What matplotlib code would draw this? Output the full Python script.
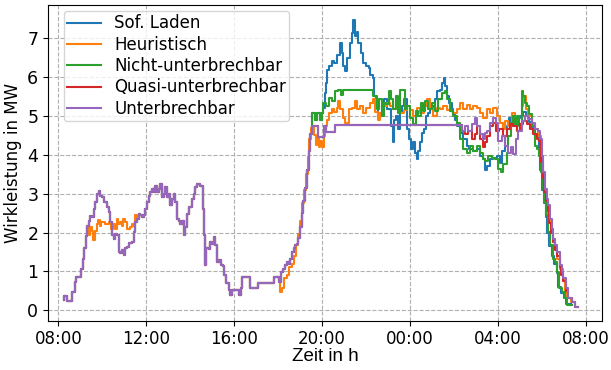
import numpy as np
import matplotlib
matplotlib.use("Agg")
import matplotlib.pyplot as plt
from matplotlib.ticker import FuncFormatter

# Gemeinsamer Verlauf (alle Strategien gleich) bis ca. 19:30, Zeit in h ab 0:00 des ersten Tages
basis_t = [8.24, 8.27, 8.40, 8.64, 8.74, 8.80, 9.03, 9.10, 9.17, 9.24,
           9.30, 9.38, 9.45, 9.55, 9.61, 9.68, 9.76, 9.83, 9.91, 9.98,
           10.06, 10.21, 10.29, 10.36, 10.44, 10.52, 10.59, 10.67, 10.74, 10.82,
           10.89, 10.97, 11.05, 11.12, 11.23, 11.35, 11.42, 11.50, 11.58, 11.65,
           11.73, 11.80, 11.88, 11.95, 12.03, 12.11, 12.18, 12.26, 12.33, 12.41,
           12.48, 12.56, 12.64, 12.71, 12.79, 12.86, 12.94, 13.02, 13.09, 13.17,
           13.24, 13.32, 13.39, 13.47, 13.55, 13.62, 13.70, 13.77, 13.85, 13.92,
           14.08, 14.15, 14.23, 14.30, 14.45, 14.56, 14.61, 14.65, 14.70, 14.83,
           14.91, 14.98, 15.06, 15.14, 15.21, 15.29, 15.39, 15.48, 15.55, 15.64,
           15.74, 15.82, 15.89, 16.20, 16.30, 16.35, 16.72, 17.08, 17.83, 18.02,
           18.12, 18.24, 18.32, 18.39, 18.47, 18.55, 18.62, 18.70, 18.77, 18.85,
           18.92, 19.00, 19.08, 19.15, 19.23, 19.30, 19.38, 19.45]
basis_p = [0.26, 0.37, 0.24, 0.48, 0.73, 0.85, 1.07, 1.33, 1.59, 1.90,
           2.18, 2.30, 2.42, 2.40, 2.61, 2.78, 2.99, 3.08, 2.95, 2.91,
           2.78, 2.65, 2.53, 2.27, 1.93, 1.84, 1.97, 1.93, 1.50, 1.46,
           1.54, 1.42, 1.59, 1.63, 1.72, 1.76, 2.01, 2.27, 2.35, 2.48,
           2.44, 2.40, 2.44, 2.61, 2.78, 2.95, 3.04, 3.12, 3.04, 3.21,
           3.04, 3.12, 3.25, 2.91, 2.99, 3.16, 2.91, 2.99, 2.70, 2.87,
           2.99, 2.78, 2.35, 2.30, 2.23, 2.30, 1.93, 2.14, 2.48, 2.65,
           2.87, 2.99, 3.16, 3.25, 3.20, 2.60, 1.93, 1.16, 1.59, 1.57,
           1.76, 1.70, 1.89, 1.67, 1.25, 1.28, 1.16, 1.14, 0.91, 0.69,
           0.52, 0.39, 0.52, 0.39, 0.56, 0.86, 0.56, 0.69, 0.86, 0.73,
           0.99, 1.07, 1.16, 1.25, 1.20, 1.33, 1.50, 1.59, 1.67, 1.70,
           1.85, 2.15, 2.50, 2.80, 3.15, 3.60, 4.10, 4.55]

# Heuristisch weicht vormittags und am frühen Abend ab
heur_vm_t = [9.38, 9.42, 9.53, 9.58, 9.66, 9.74, 9.81, 9.89, 9.96, 10.14,
             10.29, 10.40, 10.50, 10.57, 10.65, 10.72, 10.82, 10.89, 10.95, 11.03,
             11.10, 11.25, 11.33, 11.42, 11.50]
heur_vm_p = [1.93, 2.14, 2.05, 1.80, 2.05, 2.23, 2.31, 2.18, 2.27, 2.23,
             2.27, 2.09, 2.23, 2.09, 2.35, 2.23, 2.27, 2.18, 2.35, 2.27,
             2.09, 2.14, 2.23, 2.18, 2.44]
heur_ab_t = [18.02, 18.07, 18.16, 18.27, 18.39, 18.50, 18.62, 18.70, 18.80, 18.90,
             19.00, 19.10, 19.18, 19.26, 19.34, 19.42, 19.50]
heur_ab_p = [0.73, 0.48, 0.56, 0.82, 0.91, 1.10, 1.20, 1.40, 1.67, 1.95,
             2.30, 2.75, 3.10, 3.50, 3.95, 4.40, 4.70]

# Abend und Nacht, je Strategie
sofort_t = [20.06, 20.12, 20.18, 20.24, 20.33, 20.44, 20.55, 20.67, 20.79, 20.89,
            20.97, 21.05, 21.15, 21.27, 21.35, 21.42, 21.50, 21.58, 21.65, 21.76,
            21.88, 22.00, 22.11, 22.18, 22.30, 22.36, 22.45, 22.52, 22.64, 22.71,
            22.83, 22.94, 23.05, 23.14, 23.21, 23.29, 23.36, 23.47, 23.55, 23.62,
            23.73, 23.85, 23.95, 24.03, 24.12, 24.23, 24.30, 24.38, 24.45, 24.53,
            24.61, 24.73, 24.83, 24.91, 25.03, 25.14, 25.24, 25.36, 25.44, 25.52,
            25.59, 25.67, 25.79, 25.89, 25.97, 26.05, 26.12, 26.27, 26.42, 26.58,
            26.70, 26.88, 27.03, 27.18, 27.30, 27.40, 27.48, 27.63, 27.79, 27.94,
            28.09, 28.20, 28.30, 28.40, 28.50, 28.60, 28.70, 28.85, 29.00, 29.15,
            29.25, 29.40, 29.55, 29.70, 29.85, 29.93, 30.00, 30.08, 30.16, 30.25,
            30.33, 30.45, 30.55, 30.66, 30.75, 30.86, 31.00, 31.10, 31.30]
sofort_p = [5.20, 5.60, 5.85, 6.19, 6.28, 6.41, 6.36, 6.58, 6.88, 6.62,
            6.28, 6.15, 6.49, 6.88, 7.13, 7.47, 7.05, 7.17, 6.88, 6.62,
            6.36, 6.28, 6.23, 6.07, 5.98, 5.51, 5.26, 5.00, 5.08, 5.26,
            5.43, 5.17, 5.17, 4.74, 4.32, 4.90, 5.00, 4.66, 5.08, 5.26,
            5.43, 4.66, 4.40, 4.15, 4.32, 4.06, 3.89, 4.10, 4.32, 4.57,
            4.66, 5.00, 5.08, 5.17, 5.26, 5.43, 5.64, 5.68, 5.85, 5.98,
            5.77, 5.51, 5.34, 5.17, 5.08, 4.90, 4.74, 4.57, 4.40, 4.23,
            4.15, 4.10, 4.15, 3.97, 3.89, 3.60, 3.72, 3.89, 3.93, 3.97,
            3.80, 4.10, 4.49, 4.74, 4.95, 4.74, 4.87, 4.95, 5.00, 5.10,
            5.00, 4.85, 4.70, 4.45, 4.10, 3.60, 3.10, 2.75, 2.40, 2.00,
            1.65, 1.40, 1.20, 0.95, 0.60, 0.45, 0.30, 0.15, 0.15]

heur_t = [19.55, 19.62, 19.70, 19.78, 19.85, 19.92, 20.00, 20.08, 20.15, 20.22,
          20.30, 20.44, 20.55, 20.67, 20.74, 20.82, 20.97, 21.05, 21.20, 21.35,
          21.50, 21.58, 21.73, 21.85, 21.98, 22.18, 22.33, 22.42, 22.52, 22.64,
          22.79, 22.94, 23.09, 23.24, 23.38, 23.55, 23.70, 23.85, 24.00, 24.15,
          24.30, 24.45, 24.61, 24.76, 24.91, 25.06, 25.21, 25.36, 25.51, 25.67,
          25.82, 25.97, 26.12, 26.27, 26.42, 26.58, 26.73, 26.88, 27.03, 27.18,
          27.33, 27.48, 27.63, 27.79, 27.94, 28.09, 28.24, 28.32, 28.47, 28.62,
          28.77, 28.92, 29.07, 29.15, 29.27, 29.38, 29.53, 29.68, 29.83, 29.94,
          30.00, 30.06, 30.13, 30.21, 30.29, 30.39, 30.48, 30.59, 30.70, 30.82,
          30.94, 31.04, 31.15, 31.30, 31.50, 31.62]
heur_p = [4.75, 4.50, 4.25, 4.45, 4.19, 4.35, 4.19, 4.49, 4.74, 4.91,
          5.08, 5.17, 5.10, 5.21, 5.38, 5.17, 4.96, 4.83, 5.17, 5.20,
          5.38, 5.17, 5.26, 5.08, 5.20, 5.34, 5.43, 5.10, 4.91, 5.08,
          5.26, 5.34, 5.25, 5.17, 5.38, 5.08, 5.15, 5.26, 5.15, 5.00,
          5.20, 5.08, 5.26, 5.43, 5.20, 5.00, 5.20, 5.17, 5.25, 5.15,
          5.13, 5.08, 5.17, 5.34, 5.17, 5.28, 5.17, 5.26, 5.20, 5.08,
          4.96, 5.17, 5.09, 5.21, 4.99, 4.83, 4.66, 4.87, 4.74, 5.09,
          4.91, 4.79, 5.26, 5.51, 5.17, 4.99, 4.79, 4.66, 4.49, 4.15,
          3.64, 3.21, 2.87, 2.70, 2.36, 2.10, 1.84, 1.59, 1.33, 1.07,
          0.82, 0.48, 0.31, 0.22, 0.09, 0.09]

nicht_t = [19.53, 19.68, 19.76, 19.91, 19.98, 20.06, 20.18, 20.29, 20.44, 20.59,
           20.74, 20.85, 20.95, 21.10, 22.33, 22.49, 22.60, 22.71, 22.80, 22.90,
           23.02, 23.12, 23.24, 23.35, 23.47, 23.55, 23.77, 23.88, 24.00, 24.15,
           24.27, 24.38, 24.48, 24.60, 24.68, 24.83, 24.98, 25.14, 25.29, 25.44,
           25.59, 25.67, 25.82, 25.97, 26.12, 26.27, 26.42, 26.58, 26.73, 26.88,
           27.03, 27.18, 27.33, 27.41, 27.55, 27.71, 27.85, 28.01, 28.12, 28.24,
           28.39, 28.47, 28.57, 28.67, 28.77, 28.85, 28.97, 29.07, 29.15, 29.23,
           29.30, 29.42, 29.53, 29.63, 29.68, 29.79, 29.88, 29.95, 30.03, 30.09,
           30.18, 30.29, 30.36, 30.48, 30.59, 30.70, 30.79, 30.89, 31.04, 31.12,
           31.35]
nicht_p = [5.09, 4.91, 5.09, 4.91, 5.09, 5.34, 5.26, 5.47, 5.38, 5.64,
           5.68, 5.55, 5.68, 5.66, 5.51, 5.17, 5.43, 5.00, 5.34, 5.30,
           5.64, 5.43, 5.17, 5.51, 5.08, 5.66, 5.17, 5.25, 4.95, 4.79,
           5.13, 4.99, 5.34, 5.13, 5.38, 5.17, 5.34, 5.13, 5.43, 5.60,
           5.64, 5.43, 5.13, 4.99, 4.83, 4.40, 4.15, 4.06, 4.23, 4.10,
           4.23, 4.06, 3.89, 3.85, 3.97, 3.93, 3.90, 3.64, 3.55, 3.76,
           4.06, 4.49, 4.83, 5.00, 4.74, 5.00, 4.74, 5.64, 5.51, 5.34,
           5.26, 5.04, 4.74, 4.57, 4.23, 4.15, 3.97, 3.55, 3.12, 2.79,
           2.45, 2.02, 1.67, 1.33, 1.25, 0.99, 0.56, 0.48, 0.31, 0.14,
           0.14]

quasi_t = [26.35, 26.50, 26.65, 26.80, 26.95, 27.05, 27.20, 27.33, 27.40, 27.48,
           27.63, 27.75, 27.90, 28.05, 28.24, 28.39, 28.54, 28.70, 28.85, 29.00,
           29.15, 29.30, 29.45, 29.60, 29.76, 29.88, 29.96, 30.03, 30.10, 30.18,
           30.26, 30.33, 30.41, 30.50, 30.58, 30.66, 30.80, 30.88, 30.96, 31.08,
           31.20, 31.35, 31.50, 31.62]
quasi_p = [4.62, 4.55, 4.62, 4.40, 4.55, 4.74, 4.40, 4.19, 4.32, 4.49,
           4.74, 4.83, 4.62, 4.66, 4.49, 4.66, 4.79, 4.74, 4.62, 4.79,
           4.87, 4.79, 4.66, 4.55, 4.40, 4.36, 3.82, 3.40, 3.05, 2.80,
           2.55, 2.25, 2.00, 1.75, 1.55, 1.40, 1.10, 0.90, 0.75, 0.50,
           0.30, 0.20, 0.09, 0.09]

unter_t = [19.53, 19.80, 20.08, 20.18, 20.60, 26.35, 26.50, 26.65, 26.80, 26.95,
           27.05, 27.18, 27.30, 27.40, 27.50, 27.63, 27.75, 27.90, 28.01, 28.16,
           28.32, 28.47, 28.57, 28.70, 28.82, 28.92, 29.07, 29.23, 29.38, 29.53,
           29.68, 29.83, 29.91, 29.98, 30.06, 30.13, 30.21, 30.29, 30.36, 30.44,
           30.51, 30.59, 30.67, 30.82, 30.89, 30.97, 31.09, 31.20, 31.35, 31.50,
           31.65]
unter_p = [4.75, 4.45, 4.75, 4.60, 4.76, 4.62, 4.74, 4.62, 4.79, 4.95,
           4.74, 4.55, 4.40, 4.57, 4.62, 4.83, 4.96, 4.83, 4.36, 4.49,
           4.23, 4.06, 4.19, 4.02, 4.40, 4.62, 4.87, 5.00, 4.92, 4.83,
           4.66, 4.62, 4.40, 3.97, 3.55, 3.12, 2.87, 2.70, 2.36, 2.10,
           1.84, 1.67, 1.50, 1.16, 0.99, 0.82, 0.56, 0.31, 0.22, 0.09,
           0.09]

labels = ["Sof. Laden", "Heuristisch", "Nicht-unterbrechbar", "Quasi-unterbrechbar", "Unterbrechbar"]


# Helper: Teilstücke (t, p) aneinanderhängen, optional nur ein Zeitfenster davon
def stueck(t, p, von=-np.inf, bis=np.inf):
    t = np.asarray(t)
    p = np.asarray(p)
    m = (t >= von) & (t < bis)
    return t[m], p[m]


def zusammen(*teile):
    return (np.concatenate([a for a, _ in teile]), np.concatenate([b for _, b in teile]))


basis = (basis_t, basis_p)
reihen = [
    zusammen(stueck(*basis), stueck(nicht_t, nicht_p, bis=20.06), stueck(sofort_t, sofort_p)),
    zusammen(stueck(*basis, bis=9.38), stueck(heur_vm_t, heur_vm_p), stueck(*basis, von=11.58, bis=18.02),
             stueck(heur_ab_t, heur_ab_p), stueck(heur_t, heur_p)),
    zusammen(stueck(*basis), stueck(nicht_t, nicht_p)),
    zusammen(stueck(*basis), stueck(unter_t, unter_p, bis=26.35), stueck(quasi_t, quasi_p)),
    zusammen(stueck(*basis), stueck(unter_t, unter_p)),
]

fig = plt.figure(figsize=(6.11, 3.70), dpi=100)
ax = fig.add_axes([0.0786, 0.1324, 0.9067, 0.854])

for (t, p), name in zip(reihen, labels):
    ax.plot(t, p, drawstyle="steps-post", linewidth=1.5, label=name)

ax.set_xlim(7.53, 32.73)
ax.set_ylim(-0.28, 7.86)
ax.set_xticks(np.arange(8, 33, 4))
ax.xaxis.set_major_formatter(FuncFormatter(lambda x, pos: "%02d:00" % (int(round(x)) % 24)))
ax.set_yticks(range(0, 8))
ax.tick_params(labelsize=12.5)
ax.tick_params(axis="x", labelsize=12, pad=3)
ax.grid(True, linestyle="--", color="#b0b0b0", linewidth=0.8)

ax.set_ylabel("Wirkleistung in MW", fontsize=12)
ax.set_xlabel("Zeit in h", fontsize=13.5, family="Liberation Sans", labelpad=0)

ax.legend(loc="upper left", bbox_to_anchor=(0.029, 0.981), borderaxespad=0,
          fontsize=12, labelspacing=0.2, borderpad=0.2)

fig.savefig("out.png", dpi=100)
